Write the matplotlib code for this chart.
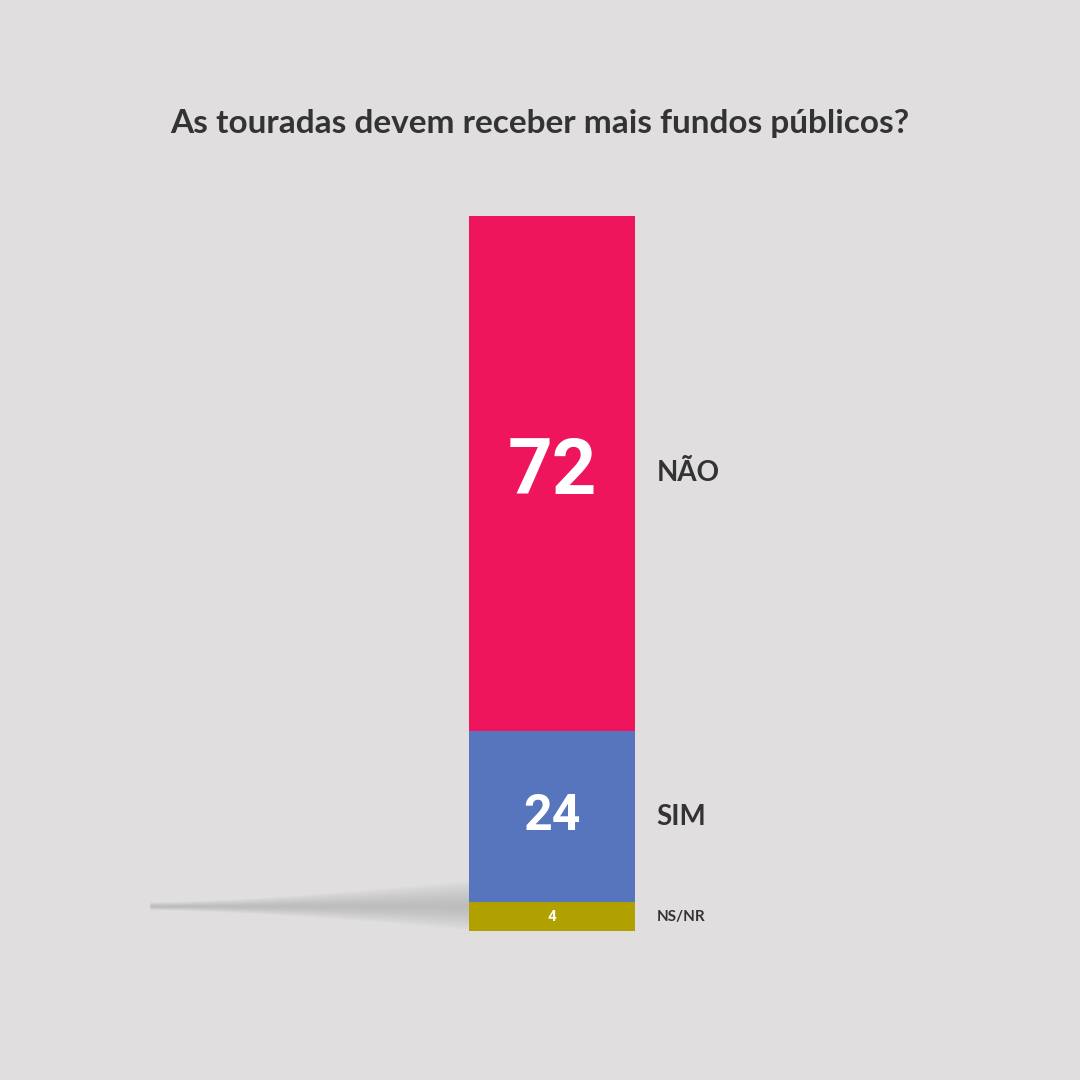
import matplotlib
matplotlib.use("Agg")
import matplotlib.pyplot as plt
import numpy as np

TITLE = "As touradas devem receber mais fundos públicos?"
labels = ["NS/NR", "SIM", "NÃO"]
values = [4, 24, 72]
colors = ["#b0a000", "#5675bc", "#ee155d"]
num_sizes = [11, 36, 56]
lab_sizes = [11, 20, 20]

BG = "#e0dedf"
fig = plt.figure(figsize=(10.8, 10.8), dpi=100, facecolor=BG)

# soft shadow behind the bar foot
sh = fig.add_axes([0, 0, 1, 1], zorder=0)
sh.set_xlim(0, 1080); sh.set_ylim(1080, 0); sh.axis("off")
xs = np.linspace(150, 470, 200)
for k in range(12):
    t = (xs - 150) / 320
    half = (4 + 22 * t ** 1.5) * (1 - k / 12)
    sh.fill_between(xs, 906 - half, 906 + half * 0.9, color="#a0a0a0",
                    alpha=0.05, lw=0)

ax = fig.add_axes([469 / 1080, 149 / 1080, 166 / 1080, 715 / 1080], zorder=1)
ax.set_xlim(-0.5, 0.5); ax.set_ylim(0, 100); ax.axis("off")
bottom = 0
for lab, v, c, ns, ls in zip(labels, values, colors, num_sizes, lab_sizes):
    ax.bar(0, v, bottom=bottom, width=1, color=c, lw=0)
    mid = bottom + v / 2
    ax.text(0, mid, str(v), ha="center", va="center", color="white",
            fontsize=ns, fontweight="bold", family="Roboto")
    ax.text(0.63, mid, lab, ha="left", va="center", color="#333333",
            fontsize=ls, fontweight="bold", family="Lato", clip_on=False)
    bottom += v

fig.text(0.5, 1 - 123 / 1080, TITLE, ha="center", va="center",
         fontsize=24, fontweight="bold", color="#333333", family="Lato")
fig.savefig("out.png", dpi=100, facecolor=BG)
